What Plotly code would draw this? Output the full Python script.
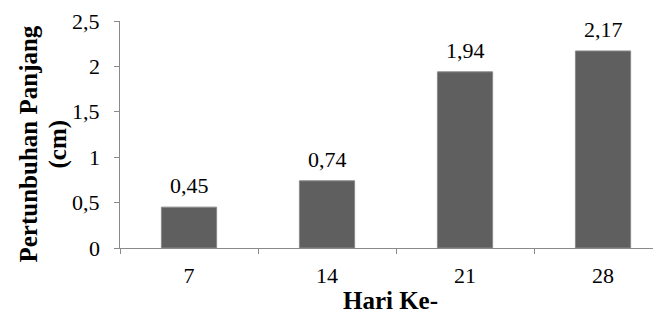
import plotly.graph_objects as go

categories = ["7", "14", "21", "28"]
values = [0.45, 0.74, 1.94, 2.17]
y_ticks = [0, 0.5, 1, 1.5, 2, 2.5]
y_tick_labels = ["0", "0,5", "1", "1,5", "2", "2,5"]
y_title_lines = ["Pertunbuhan Panjang", "(cm)"]
x_title = "Hari Ke-"

FONT = "Liberation Serif"
AXIS_GREY = "#8a8a8a"

fig = go.Figure(go.Bar(
    x=categories, y=values, width=0.4,
    marker=dict(color="#5f5f5f", line=dict(color=AXIS_GREY, width=1)),
    hoverinfo="x+y",
))

# value labels: category axis annotations use the category index
for i, v in enumerate(values):
    fig.add_annotation(
        x=i, y=v, xref="x", yref="y", text=f"{v:.2f}".replace(".", ","),
        showarrow=False, yanchor="bottom", yshift=7,
        font=dict(family=FONT, size=22, color="#000"),
    )

# y tick labels placed on the y scale, right-aligned with a wider gap than default
for t, lab in zip(y_ticks, y_tick_labels):
    fig.add_annotation(
        x=0, y=t, xref="paper", yref="y", text=lab,
        showarrow=False, xanchor="right", yanchor="middle", xshift=-18,
        font=dict(family=FONT, size=22, color="#000"),
    )

# y-axis title as two rotated lines
for line, shift in zip(y_title_lines, [-92, -63]):
    fig.add_annotation(
        x=0, y=0.5, xref="paper", yref="paper", text=f"<b>{line}</b>",
        showarrow=False, textangle=-90, xanchor="center", yanchor="middle",
        xshift=shift, yshift=-10,
        font=dict(family=FONT, size=25, color="#000"),
    )

# page body has an 8px default margin: the figure is sized to fit the window
fig.update_layout(
    width=653, height=312,
    margin=dict(l=112, r=0, t=13, b=72),
    paper_bgcolor="white", plot_bgcolor="white",
    separators=",.",
    showlegend=False,
    font=dict(family=FONT, size=22, color="#000"),
)
fig.update_xaxes(
    type="category", range=[-0.5, 3.42], automargin=False,
    showline=True, linecolor=AXIS_GREY, linewidth=1,
    ticks="outside", tickson="boundaries", ticklen=5, tickcolor=AXIS_GREY,
    tickfont=dict(family=FONT, size=22, color="#000"),
    ticklabelstandoff=8,
    title=dict(text=f"<b>{x_title}</b>", font=dict(family=FONT, size=25, color="#000"), standoff=4),
    showgrid=False, zeroline=False,
)
fig.update_yaxes(
    range=[0, 2.5], tickvals=y_ticks, automargin=False,
    showline=True, linecolor=AXIS_GREY, linewidth=1,
    ticks="outside", ticklen=5, tickcolor=AXIS_GREY,
    showticklabels=False,
    showgrid=False, zeroline=False,
)

fig.write_html("out.html")
